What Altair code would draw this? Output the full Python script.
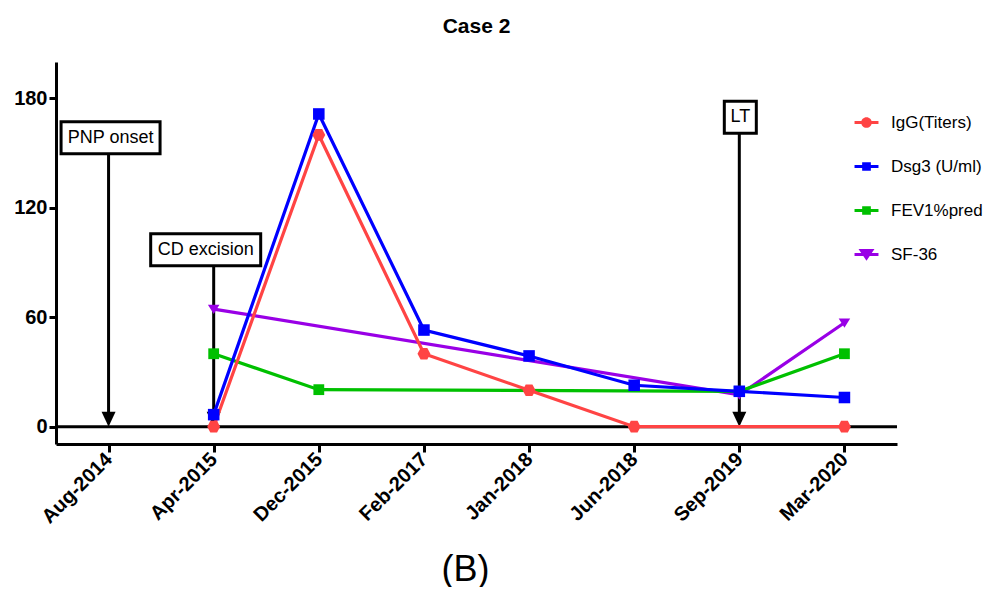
import altair as alt
import pandas as pd

# ---------------- data ----------------
dates = ["Aug-2014", "Apr-2015", "Dec-2015", "Feb-2017", "Jan-2018",
         "Jun-2018", "Sep-2019", "Mar-2020"]
series_names = ["IgG(Titers)", "Dsg3 (U/ml)", "FEV1%pred", "SF-36"]
series_colors = ["#FF4444", "#0000FF", "#00C000", "#9900E6"]

igg_dates = ["Apr-2015", "Dec-2015", "Feb-2017", "Jan-2018", "Jun-2018", "Mar-2020"]
igg_values = [0, 160, 40, 20, 0, 0]
dsg3_dates = ["Apr-2015", "Dec-2015", "Feb-2017", "Jan-2018", "Jun-2018", "Sep-2019", "Mar-2020"]
dsg3_values = [6.6, 171.5, 53, 38.8, 22.7, 19.4, 16]
fev1_dates = ["Apr-2015", "Dec-2015", "Sep-2019", "Mar-2020"]
fev1_values = [40, 20.3, 19.4, 40]
sf36_dates = ["Apr-2015", "Sep-2019", "Mar-2020"]
sf36_values = [64.5, 17.5, 57]

event_labels = ["PNP onset", "CD excision", "LT"]
event_dates = ["Aug-2014", "Apr-2015", "Sep-2019"]
event_box_y = [158.5, 97, 169.7]

y_ticks = [0, 60, 120, 180]

# ---------------- tables ----------------
rows = []
# drawing order: SF-36 at the bottom, IgG on top
for name, ds, vs in [("SF-36", sf36_dates, sf36_values),
                     ("FEV1%pred", fev1_dates, fev1_values),
                     ("Dsg3 (U/ml)", dsg3_dates, dsg3_values),
                     ("IgG(Titers)", igg_dates, igg_values)]:
    for d, v in zip(ds, vs):
        rows.append({"series": name, "date": d, "value": v, "idx": dates.index(d)})
df = pd.DataFrame(rows)

events = pd.DataFrame({"label": event_labels, "date": event_dates,
                       "box_y": event_box_y, "tip": [0] * len(event_labels)})
zero_df = pd.DataFrame({"zero": [0]})
legend_df = pd.DataFrame({"series": series_names})

FONT = "Liberation Sans"

xscale = alt.Scale(domain=dates, type="point", padding=0.5)
yscale = alt.Scale(domain=[-9.5, 200], nice=False, zero=False)
cscale = alt.Scale(domain=series_names, range=series_colors)

x_enc = alt.X("date:N", scale=xscale, sort=dates,
              axis=alt.Axis(title="(B)", labelAngle=-45, labelFont=FONT,
                            labelFontWeight="bold", labelFontSize=20,
                            labelColor="black", labelPadding=4,
                            domainColor="black", domainWidth=3,
                            tickColor="black", tickWidth=3, tickSize=8,
                            grid=False, titleFont=FONT, titleFontSize=36,
                            titleFontWeight="normal", titleColor="black",
                            titleBaseline="alphabetic", titleY=136, titleX=409))
y_enc = alt.Y("value:Q", scale=yscale,
              axis=alt.Axis(values=y_ticks, title=None, labelFont=FONT,
                            labelFontWeight="bold", labelFontSize=20,
                            labelColor="black", labelPadding=2,
                            domainColor="black", domainWidth=3,
                            tickColor="black", tickWidth=3, tickSize=7,
                            grid=False))

zero_rule = alt.Chart(zero_df).mark_rule(color="black", strokeWidth=3).encode(
    y=alt.Y("zero:Q", scale=yscale))

shafts = alt.Chart(events).mark_rule(color="black", strokeWidth=3, y2Offset=-8).encode(
    x=alt.X("date:N", scale=xscale, sort=dates),
    y=alt.Y("box_y:Q", scale=yscale), y2="tip:Q")

heads = alt.Chart(events).mark_point(
    shape="M-1,-1.07H1L0,1.07Z", size=196, filled=True, color="black",
    opacity=1, yOffset=-7.5).encode(
    x=alt.X("date:N", scale=xscale, sort=dates),
    y=alt.Y("tip:Q", scale=yscale))

box_style = {"PNP onset": (99, 32, 2), "CD excision": (110, 32, -8), "LT": (32, 32, 1)}
box_layers = []
for lab in event_labels:
    w, h, dx = box_style[lab]
    ry = h / w
    path = f"M-1,-{ry:.4f}H1V{ry:.4f}H-1Z"
    sub = events[events["label"] == lab]
    box_layers.append(
        alt.Chart(sub).mark_point(shape=path, size=w * w, filled=True, fill="white",
                                  stroke="black", strokeWidth=3, opacity=1,
                                  xOffset=dx).encode(
            x=alt.X("date:N", scale=xscale, sort=dates),
            y=alt.Y("box_y:Q", scale=yscale)))
    box_layers.append(
        alt.Chart(sub).mark_text(font=FONT, fontSize=18, color="black",
                                 xOffset=dx).encode(
            x=alt.X("date:N", scale=xscale, sort=dates),
            y=alt.Y("box_y:Q", scale=yscale), text="label:N"))

lines = alt.Chart(df).mark_line(strokeWidth=3.2).encode(
    x=x_enc, y=y_enc,
    color=alt.Color("series:N", scale=cscale, legend=None),
    detail="series:N",
    order=alt.Order("idx:Q"))

# marker shapes as custom paths (unit box), so their size is predictable
marker_paths = [
    "M0.55,-0.95L-0.55,-0.95L-1.05,0L-0.55,0.95L0.55,0.95L1.05,0Z",
    "M-1,-1H1V1H-1Z",
    "M-1,-1H1V1H-1Z",
    "M-1.15,-0.85H1.15L0,1Z",
]
points = alt.Chart(df).mark_point(filled=True, opacity=1).encode(
    x=alt.X("date:N", scale=xscale, sort=dates),
    y=alt.Y("value:Q", scale=yscale),
    color=alt.Color("series:N", scale=cscale, legend=None),
    shape=alt.Shape("series:N", scale=alt.Scale(
        domain=series_names, range=marker_paths), legend=None),
    size=alt.Size("series:N", scale=alt.Scale(
        domain=series_names, range=[150, 100, 100, 200]), legend=None))

legend_paths = [
    "M-1.71,-0.21H1.71V0.21H-1.71Z M0.76,0A0.76,0.76,0,1,1,-0.76,0A0.76,0.76,0,1,1,0.76,0Z",
    "M-1.71,-0.21H1.71V0.21H-1.71Z M-0.62,-0.62H0.62V0.62H-0.62Z",
    "M-1.71,-0.21H1.71V0.21H-1.71Z M-0.62,-0.62H0.62V0.62H-0.62Z",
    "M-1.71,-0.21H1.71V0.21H-1.71Z M-1.14,-0.8H1.14L0,0.9Z",
]
leg = alt.Legend(title=None, orient="none", legendX=802, legendY=52,
                 symbolSize=196, labelOffset=16, rowPadding=26,
                 symbolStrokeWidth=0, labelFont=FONT, labelFontSize=17,
                 labelColor="black", labelLimit=300)
legend_layer = alt.Chart(legend_df).mark_point(
    filled=True, clip=True, yOffset=3000, opacity=1).encode(
    color=alt.Color("series:N", scale=cscale, legend=leg),
    shape=alt.Shape("series:N", scale=alt.Scale(domain=series_names, range=legend_paths),
                    legend=leg))

chart = alt.layer(zero_rule, shafts, heads, *box_layers, lines, points, legend_layer).resolve_scale(
    color="independent", shape="independent"
).properties(
    width=841, height=382,
    title=alt.TitleParams("Case 2", font=FONT, fontSize=21, fontWeight="bold",
                          anchor="middle", offset=25, color="black"),
    padding={"left": 48, "top": 54, "right": 90, "bottom": 143},
    autosize=alt.AutoSizeParams(type="none"),
).configure_view(strokeWidth=0)

chart.save("out.html", embed_options={"renderer": "svg", "actions": False})
